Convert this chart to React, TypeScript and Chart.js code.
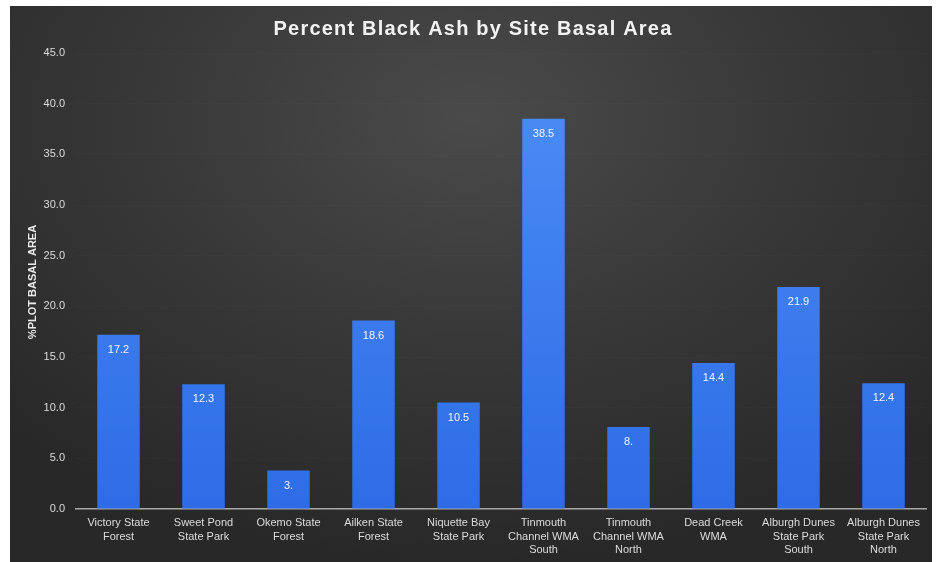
import React, { useEffect, useRef } from "react";
import { Chart, registerables } from "chart.js";

Chart.register(...registerables);

const TITLE = "Percent Black Ash by Site Basal Area";
const Y_TITLE = "%PLOT BASAL AREA";
const categories: string[][] = [
  ["Victory State", "Forest"],
  ["Sweet Pond", "State Park"],
  ["Okemo State", "Forest"],
  ["Ailken State", "Forest"],
  ["Niquette Bay", "State Park"],
  ["Tinmouth", "Channel WMA", "South"],
  ["Tinmouth", "Channel WMA", "North"],
  ["Dead Creek", "WMA"],
  ["Alburgh Dunes", "State Park", "South"],
  ["Alburgh Dunes", "State Park", "North"],
];
const values: number[] = [17.2, 12.3, 3.8, 18.6, 10.5, 38.5, 8.1, 14.4, 21.9, 12.4];
const valueLabels: string[] = ["17.2", "12.3", "3.", "18.6", "10.5", "38.5", "8.", "14.4", "21.9", "12.4"];
const yMin = 0;
const yMax = 45;
const yStep = 5;

const FONT = "'Liberation Sans', Arial, sans-serif";

const overlayPlugin = {
  id: "overlay",
  afterDatasetsDraw(chart: any) {
    const ctx = chart.ctx;
    const meta = chart.getDatasetMeta(0);
    ctx.save();
    ctx.fillStyle = "#f4f6ff";
    ctx.font = `11px ${FONT}`;
    ctx.textAlign = "center";
    ctx.textBaseline = "middle";
    meta.data.forEach((bar: any, i: number) => {
      ctx.fillText(valueLabels[i], bar.x, bar.y + 15);
    });
    ctx.restore();
  },
  afterDraw(chart: any) {
    const ctx = chart.ctx;
    ctx.save();
    // title
    ctx.fillStyle = "#f2f2f2";
    ctx.font = `bold 20px ${FONT}`;
    (ctx as any).letterSpacing = "1.2px";
    ctx.textAlign = "center";
    ctx.textBaseline = "middle";
    ctx.fillText(TITLE, 463, 23);
    (ctx as any).letterSpacing = "0px";
    // y title
    ctx.translate(23, 276);
    ctx.rotate(-Math.PI / 2);
    ctx.font = `bold 11px ${FONT}`;
    ctx.fillStyle = "#e8e8e8";
    ctx.fillText(Y_TITLE, 0, 0);
    ctx.restore();
  },
};

export default function App() {
  const ref = useRef<HTMLCanvasElement>(null);
  useEffect(() => {
    const canvas = ref.current!;
    const chart = new Chart(canvas, {
      type: "bar",
      data: {
        labels: categories,
        datasets: [
          {
            data: values,
            backgroundColor: (c: any) => {
              const area = c.chart.chartArea;
              if (!area) return "#3b7ff0";
              const g = c.chart.ctx.createLinearGradient(0, area.top, 0, area.bottom);
              g.addColorStop(0, "#4d8ff7");
              g.addColorStop(1, "#2d6ce6");
              return g;
            },
            barPercentage: 0.5,
            categoryPercentage: 1,
            borderWidth: 0,
          },
        ],
      },
      options: {
        animation: false,
        responsive: false,
        maintainAspectRatio: false,
        layout: { padding: { top: 47, right: 6, left: 0, bottom: 0 } },
        plugins: {
          legend: { display: false },
          title: { display: false },
          tooltip: { enabled: false },
        },
        scales: {
          x: {
            grid: { display: false, drawTicks: false },
            border: { display: true, color: "#a8a8a8", width: 1.5 },
            ticks: {
              color: "#dcdcdc",
              font: { family: FONT, size: 11, lineHeight: 1.25 },
              padding: 7,
              maxRotation: 0,
              autoSkip: false,
            },
            afterFit: (s: any) => {
              s.height = 53;
            },
          },
          y: {
            min: yMin,
            max: yMax,
            grid: { color: "rgba(255,255,255,0.02)", drawTicks: false },
            border: { display: false },
            ticks: {
              stepSize: yStep,
              color: "#dcdcdc",
              font: { family: FONT, size: 11 },
              padding: 11,
              callback: (v: any) => Number(v).toFixed(1),
            },
            afterFit: (s: any) => {
              s.width = 66;
            },
          },
        },
      },
      plugins: [overlayPlugin],
    });
    return () => chart.destroy();
  }, []);
  return (
    <div
      style={{
        position: "fixed",
        left: 10,
        top: 6,
        width: 922,
        height: 556,
        background:
          "radial-gradient(ellipse 70% 80% at 50% 20%, #4a4a4a 0%, #383838 50%, #282828 100%)",
      }}
    >
      <canvas ref={ref} width={922} height={556} style={{ display: "block" }} />
    </div>
  );
}
